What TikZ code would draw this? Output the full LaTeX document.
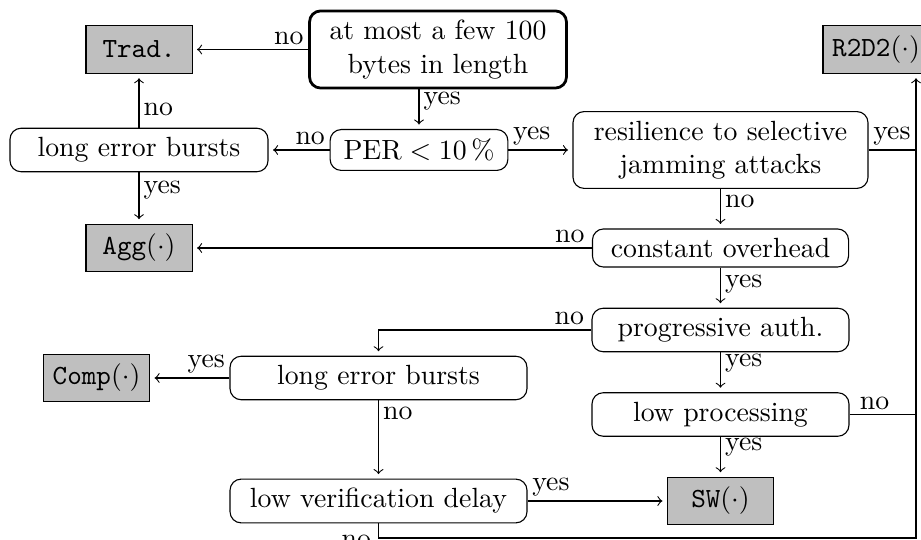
\documentclass[tikz,border=0pt]{standalone}
\usetikzlibrary{calc}
\begin{document}
\begin{tikzpicture}[x=0.36pt,y=-0.36pt,
  askbox/.style={draw, rounded corners=4pt, align=center, inner sep=3.33pt},
  outbox/.style={draw, fill=lightgray, minimum width=38.2pt, minimum height=17.1pt, inner sep=2pt},
  lab/.style={inner sep=1.5pt},
  arr/.style={->, shorten >=1.6pt}]
\useasboundingbox (0,0) rectangle (921,540);
% nodes
\node[askbox, line width=1pt, minimum width=92.5pt] (top) at (438,49.5) {at most a few 100\\bytes in length};
\node[outbox] (trad) at (139,49.5) {\texttt{Trad.}};
\node[outbox] (r2d2) at (876,49.5) {\texttt{R2D2}$(\cdot)$};
\node[askbox, minimum width=92.9pt] (lebT) at (139,150) {long error bursts};
\node[askbox, minimum width=64pt] (per) at (419,150) {$\mathrm{PER} < 10\,\%$};
\node[askbox, minimum width=106.2pt] (res) at (720.5,150) {resilience to selective\\jamming attacks};
\node[outbox] (agg) at (139,248) {\texttt{Agg}$(\cdot)$};
\node[askbox, minimum width=92.2pt] (co) at (720.5,248) {constant overhead};
\node[askbox, minimum width=92.5pt] (pa) at (720.5,330) {progressive auth.};
\node[askbox, minimum width=106.9pt] (lebM) at (378.5,378) {long error bursts};
\node[outbox] (comp) at (96.5,378) {\texttt{Comp}$(\cdot)$};
\node[askbox, minimum width=92.5pt] (lp) at (720.5,414.5) {low processing};
\node[askbox, minimum width=106.9pt] (lvd) at (378.5,501) {low verification delay};
\node[outbox] (sw) at (720.5,501) {\texttt{SW}$(\cdot)$};
\coordinate (railbot) at (916,538);
% connectors
\draw[arr] (top) -- node[lab,pos=0,anchor=south east]{no} (trad);
\draw[arr] (top.south -| per) -- node[lab,pos=0.3,anchor=west]{yes} (per);
\draw[arr] (per) -- node[lab,pos=0,anchor=south east]{no} (lebT);
\draw[arr] (per) -- node[lab,pos=0,anchor=south west]{yes} (res);
\draw[arr] (lebT) -- node[lab,pos=0.33,anchor=west]{no} (trad);
\draw[arr] (lebT) -- node[lab,pos=0.35,anchor=west]{yes} (agg);
\draw[arr] (res) -- node[lab,pos=0.31,anchor=west]{no} (co);
\draw (res) -- node[lab,pos=0,anchor=south west]{yes} (res.east -| railbot);
\draw[arr] (co) -- node[lab,pos=0,anchor=south east,xshift=-1pt]{no} (agg);
\draw[arr] (co) -- node[lab,pos=0.4,anchor=west]{yes} (pa);
\draw[arr] (pa.west) -| node[lab,pos=0,anchor=south east,xshift=-1pt]{no} (lebM.north);
\draw[arr] (pa) -- node[lab,pos=0.27,anchor=west]{yes} (lp);
\draw[arr] (lp) -- node[lab,pos=0.26,anchor=west]{yes} (sw);
\draw (lp) -- node[lab,pos=0,anchor=south west,xshift=2pt]{no} (lp.east -| railbot);
\draw[arr] (lebM) -- node[lab,pos=0,anchor=south east]{yes} (comp);
\draw[arr] (lebM) -- node[lab,pos=0.17,anchor=west]{no} (lvd);
\draw[arr] (lvd) -- node[lab,pos=0,anchor=south west]{yes} (sw);
\draw[arr] (lvd.south) -- (lvd.south |- railbot) -- (railbot) -- (r2d2.south -| railbot);
\node[lab, anchor=east, xshift=-1pt] (nolvd) at ($(lvd.south |- railbot)+(0,3)$) {no};
\end{tikzpicture}
\end{document}
